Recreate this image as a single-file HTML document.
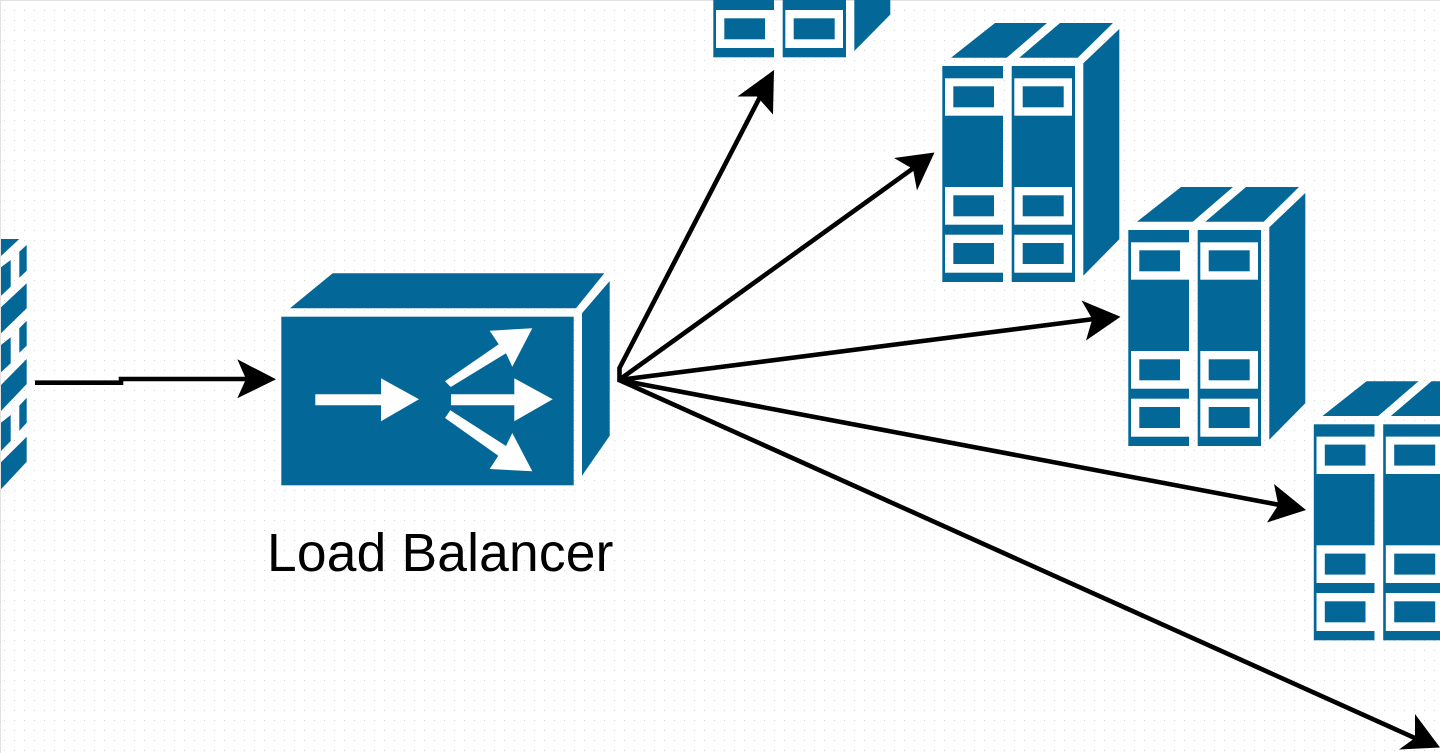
<!DOCTYPE html>
<html>
<head>
<meta charset="utf-8">
<style>
html,body{margin:0;padding:0;background:#fff;width:1440px;height:753px;overflow:hidden}
svg{display:block;position:absolute;left:0;top:0}
</style>
</head>
<body>
<svg width="1440" height="753" viewBox="0 0 1440 753" xmlns="http://www.w3.org/2000/svg">
<defs>
<pattern id="dots" x="4" y="0" width="10" height="10" patternUnits="userSpaceOnUse">
<rect x="0" y="0" width="1" height="1" fill="#d2d2d2"/>
</pattern>
<g id="rack">
<g fill="#036897">
<polygon points="951,57.7 995,23 1047,23 1006.7,57.7"/>
<polygon points="1019.3,57.7 1060,23 1113,23 1077.7,57.7"/>
<polygon points="1083.3,63.3 1119.3,29 1119.3,239.3 1083.3,275.7"/>
<rect x="942.3" y="66" width="60.7" height="216"/>
<rect x="1011.7" y="66" width="63.3" height="216"/>
</g>
<g fill="#fff">
<rect x="945" y="78.3" width="58" height="37.4"/>
<rect x="945" y="187" width="58" height="37.7"/>
<rect x="945" y="234.7" width="58" height="38"/>
<rect x="1014.3" y="78.3" width="57.7" height="37.4"/>
<rect x="1014.3" y="187" width="57.7" height="37.7"/>
<rect x="1014.3" y="234.7" width="57.7" height="38"/>
</g>
<g fill="#036897">
<rect x="953.3" y="86.3" width="40.7" height="21"/>
<rect x="953.3" y="195.3" width="40.7" height="21"/>
<rect x="953.3" y="243" width="40.7" height="21"/>
<rect x="1022.7" y="86.3" width="41" height="21"/>
<rect x="1022.7" y="195.3" width="41" height="21"/>
<rect x="1022.7" y="243" width="41" height="21"/>
</g>
</g>
</defs>

<rect x="0" y="0" width="1440" height="753" fill="#fff"/>
<rect x="0" y="0" width="1440" height="753" fill="url(#dots)"/>
<rect x="0" y="0" width="1440" height="1" fill="#e2e2e2"/>
<rect x="0" y="0" width="1" height="753" fill="#e2e2e2"/>

<!-- Firewall -->
<g fill="#036897">
<polygon points="1,239 19.3,239 1,256"/>
<polygon points="19.3,251.7 26.7,245 26.7,270.7 19.3,277.7"/>
<polygon points="1,267.3 10.7,260 10.7,286.7 1,295.7"/>
<polygon points="1,307.3 26.7,283.3 26.7,308.3 1,333.3"/>
<polygon points="19.3,328.3 26.7,320.7 26.7,345.7 19.3,352.7"/>
<polygon points="1,345 10.7,337.3 10.7,363.3 1,372.3"/>
<polygon points="1,385 26.7,359 26.7,384 1,411"/>
<polygon points="19.3,405.7 26.7,397.7 26.7,422.7 19.3,430.7"/>
<polygon points="1,422.7 10.7,415 10.7,441 1,451"/>
<polygon points="1,462.3 26.7,436.7 26.7,461.7 1,489.3"/>
</g>

<!-- Load balancer -->
<g fill="#036897">
<polygon points="290,308.3 332.7,273.3 604.3,273.3 576,308.3"/>
<polygon points="582,313.3 609.7,281 609.7,435.7 582,475.7"/>
<rect x="281.3" y="316.7" width="292.4" height="168.6"/>
</g>
<g fill="#fff">
<polygon points="315.3,394.3 381,394.3 381,378.3 419,399.3 381,421.3 381,405.3 315.3,405.3"/>
<polygon points="451,394.3 514.3,394.3 514.3,378.3 552.7,399.3 514.3,421.3 514.3,405.3 451,405.3"/>
<polygon points="445,381.3 498.7,344.3 489.7,330.7 532.3,328.3 512.3,366.7 506,353.3 450.7,387"/>
<polygon points="445,418 450.3,410.3 506,446 512.3,433 532.3,471.3 489.7,469 498.3,455.7"/>
</g>

<!-- Racks -->
<use href="#rack" transform="translate(-229,-224.7)"/>
<use href="#rack"/>
<use href="#rack" transform="translate(186,164)"/>
<use href="#rack" transform="translate(371.5,358.3)"/>

<!-- Connectors -->
<g fill="none" stroke="#000" stroke-width="4.6">
<path d="M35 382.7H121V379H250"/>
<path d="M619.5 382V368L760 97"/>
<path d="M619 380L915 167"/>
<path d="M619 380L1094 319"/>
<path d="M619 380L1280 505"/>
<path d="M619 380L1417 739"/>
</g>
<g fill="#000">
<polygon points="276,379.3 237.3,398.3 246,379 237.3,359.3"/>
<polygon points="774,70 773,114.5 757,96.5 737.5,96.5"/>
<polygon points="934.5,152.5 917,190.5 913,169 894,158"/>
<polygon points="1120.5,316.7 1086,340.5 1092.3,319 1081.5,300.5"/>
<polygon points="1306,510 1267,522.5 1278.3,505 1274,484"/>
<polygon points="1440,747.5 1399,749.5 1415,738 1415,714"/>
</g>

<text x="267" y="571" font-family="'Liberation Sans', Arial, sans-serif" font-size="53.33" letter-spacing="0.2" fill="#000">Load Balancer</text>
</svg>
</body>
</html>
